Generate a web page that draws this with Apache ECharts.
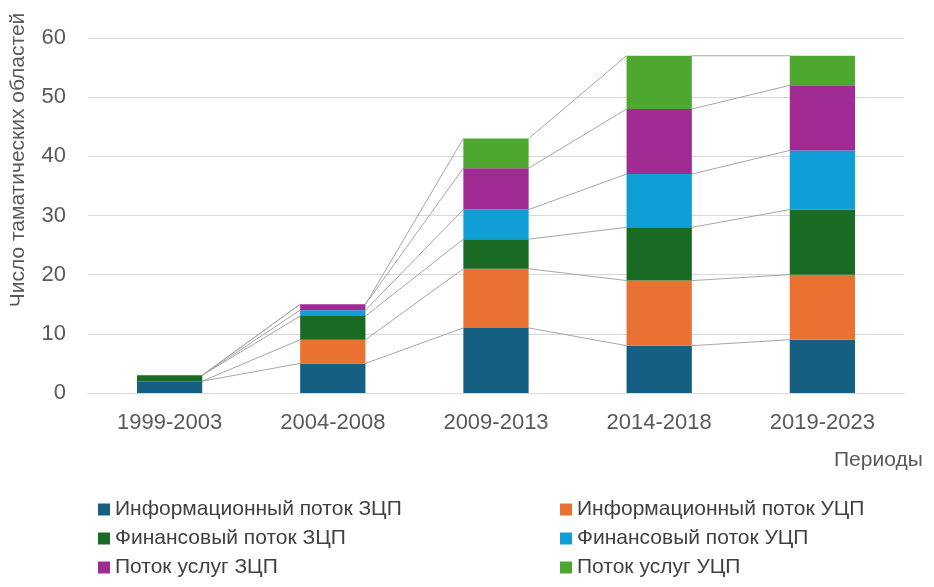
<!DOCTYPE html>
<html><head><meta charset="utf-8">
<script src="https://cdn.jsdelivr.net/npm/echarts@6/dist/echarts.min.js"></script>
<style>html,body{margin:0;padding:0;background:#fff}#c{width:934px;height:587px}</style>
</head><body><div id="c"></div>
<script>
const categories = ['1999-2003','2004-2008','2009-2013','2014-2018','2019-2023'];
const seriesNames = ['Информационный поток ЗЦП','Информационный поток УЦП','Финансовый поток ЗЦП','Финансовый поток УЦП','Поток услуг ЗЦП','Поток услуг УЦП'];
const infoZ = [2, 5, 11, 8, 9];
const infoU = [0, 4, 10, 11, 11];
const finZ = [1, 4, 5, 9, 11];
const finU = [0, 1, 5, 9, 10];
const servZ = [0, 1, 7, 11, 11];
const servU = [0, 0, 5, 9, 5];
const yTicks = [0, 10, 20, 30, 40, 50, 60];
const colors = ['#156082','#E97132','#196B24','#0F9ED5','#A02B93','#4EA72E'];
const allVals = [infoZ, infoU, finZ, finU, servZ, servU];

const cum = categories.map((c, i) => {
  let s = 0; return allVals.map(a => (s += a[i]));
});

const FONT = 'Liberation Sans';
const barSeries = seriesNames.map((n, k) => ({
  name: n, type: 'bar', stack: 'total', barWidth: '40%',
  itemStyle: { color: colors[k] }, data: allVals[k], z: 3
}));

const connector = {
  type: 'custom', silent: true, z: 2,
  data: categories.slice(0, -1).map((c, i) => i),
  renderItem: function (params, api) {
    const i = params.dataIndex;
    const bw = api.size([1, 0])[0] * 0.4;
    const children = cum[i].map((v, k) => {
      const p1 = api.coord([i, v]);
      const p2 = api.coord([i + 1, cum[i + 1][k]]);
      return { type: 'line', shape: { x1: p1[0] + bw / 2, y1: p1[1], x2: p2[0] - bw / 2, y2: p2[1] },
        style: { stroke: '#A6A6A6', lineWidth: 1 } };
    });
    return { type: 'group', children };
  }
};

const chart = echarts.init(document.getElementById('c'));
const legendCommon = { orient: 'vertical', itemWidth: 12, itemHeight: 12, itemGap: 8, icon: 'rect',
  textStyle: { fontFamily: FONT, fontSize: 21, color: '#404040' } };
chart.setOption({
  animation: false,
  textStyle: { fontFamily: FONT },
  grid: { left: 88, right: 30, top: 38, bottom: 194 },
  xAxis: { type: 'category', data: categories,
    axisLine: { lineStyle: { color: '#D9D9D9' } }, axisTick: { show: false },
    axisLabel: { fontSize: 22, color: '#595959', margin: 19, fontFamily: FONT } },
  yAxis: { type: 'value', min: yTicks[0], max: yTicks[yTicks.length - 1], interval: 10,
    axisLine: { show: false }, axisTick: { show: false },
    splitLine: { lineStyle: { color: '#D9D9D9' } },
    axisLabel: { fontSize: 22, color: '#595959', margin: 22, fontFamily: FONT } },
  legend: [
    Object.assign({ left: 93, top: 494, data: [seriesNames[0], seriesNames[2], seriesNames[4]] }, legendCommon),
    Object.assign({ left: 555, top: 494, data: [seriesNames[1], seriesNames[3], seriesNames[5]] }, legendCommon)
  ],
  graphic: [
    { type: 'text', left: 834, top: 450, style: { text: 'Периоды', fontSize: 21, fill: '#595959', fontFamily: FONT } },
    { type: 'text', x: 18, y: 160, rotation: Math.PI / 2, style: { text: 'Число таматических областей', fontSize: 21, fill: '#595959', fontFamily: FONT, align: 'center', verticalAlign: 'middle' } }
  ],
  series: [...barSeries, connector]
});
</script></body></html>
